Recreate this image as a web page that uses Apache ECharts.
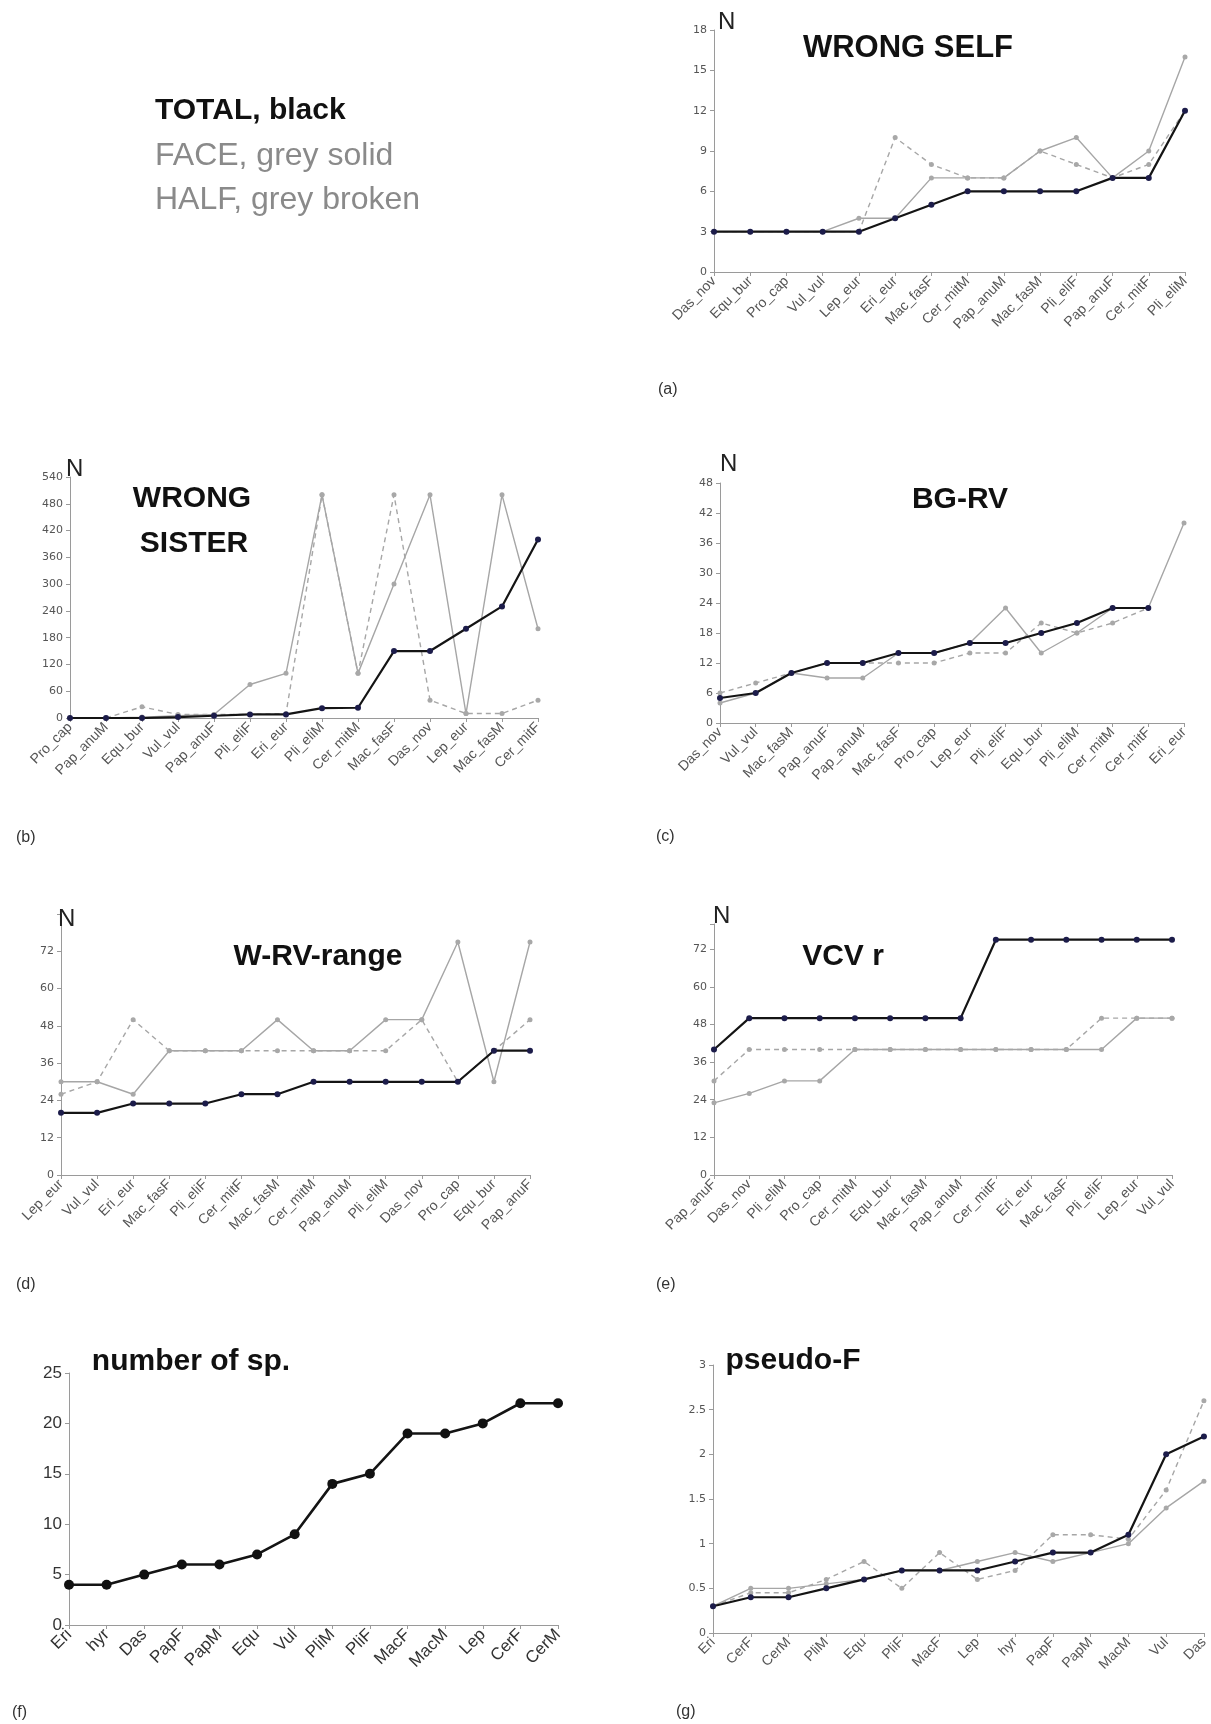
<!DOCTYPE html>
<html><head><meta charset="utf-8">
<script src="https://cdn.jsdelivr.net/npm/echarts@6/dist/echarts.min.js"></script>
<style>html,body{margin:0;padding:0;background:#fff}#c{width:1211px;height:1724px}</style>
</head><body><div id="c"></div>
<script>
// ---- data ----
const catsA = ['Das_nov','Equ_bur','Pro_cap','Vul_vul','Lep_eur','Eri_eur','Mac_fasF','Cer_mitM','Pap_anuM','Mac_fasM','Pli_eliF','Pap_anuF','Cer_mitF','Pli_eliM'];
const totalA = [3,3,3,3,3,4,5,6,6,6,6,7,7,12];
const faceA  = [3,3,3,3,4,4,7,7,7,9,10,7,9,16];
const halfA  = [3,3,3,3,3,10,8,7,7,9,8,7,8,12];

const catsB = ['Pro_cap','Pap_anuM','Equ_bur','Vul_vul','Pap_anuF','Pli_eliF','Eri_eur','Pli_eliM','Cer_mitM','Mac_fasF','Das_nov','Lep_eur','Mac_fasM','Cer_mitF'];
const totalB = [0,0,0,2,5,8,8,22,23,150,150,200,250,400];
const faceB  = [0,0,2,5,8,75,100,500,100,300,500,10,500,200];
const halfB  = [0,0,25,8,8,8,10,500,100,500,40,10,10,40];

const catsC = ['Das_nov','Vul_vul','Mac_fasM','Pap_anuF','Pap_anuM','Mac_fasF','Pro_cap','Lep_eur','Pli_eliF','Equ_bur','Pli_eliM','Cer_mitM','Cer_mitF','Eri_eur'];
const totalC = [5,6,10,12,12,14,14,16,16,18,20,23,23,null];
const faceC  = [4,6,10,9,9,14,14,16,23,14,18,23,23,40];
const halfC  = [6,8,10,12,12,12,12,14,14,20,18,20,23,null];

const catsD = ['Lep_eur','Vul_vul','Eri_eur','Mac_fasF','Pli_eliF','Cer_mitF','Mac_fasM','Cer_mitM','Pap_anuM','Pli_eliM','Das_nov','Pro_cap','Equ_bur','Pap_anuF'];
const totalD = [20,20,23,23,23,26,26,30,30,30,30,30,40,40];
const faceD  = [30,30,26,40,40,40,50,40,40,50,50,75,30,75];
const halfD  = [26,30,50,40,40,40,40,40,40,40,50,30,40,50];

const catsE = ['Pap_anuF','Das_nov','Pli_eliM','Pro_cap','Cer_mitM','Equ_bur','Mac_fasM','Pap_anuM','Cer_mitF','Eri_eur','Mac_fasF','Pli_eliF','Lep_eur','Vul_vul'];
const totalE = [40,50,50,50,50,50,50,50,75,75,75,75,75,75];
const faceE  = [23,26,30,30,40,40,40,40,40,40,40,40,50,50];
const halfE  = [30,40,40,40,40,40,40,40,40,40,40,50,50,50];

const catsF = ['Eri','hyr','Das','PapF','PapM','Equ','Vul','PliM','PliF','MacF','MacM','Lep','CerF','CerM'];
const totalF = [4,4,5,6,6,7,9,14,15,19,19,20,22,22];

const catsG = ['Eri','CerF','CerM','PliM','Equ','PliF','MacF','Lep','hyr','PapF','PapM','MacM','Vul','Das'];
const totalG = [0.3,0.4,0.4,0.5,0.6,0.7,0.7,0.7,0.8,0.9,0.9,1.1,2.0,2.2];
const faceG  = [0.3,0.5,0.5,0.55,0.6,0.7,0.7,0.8,0.9,0.8,0.9,1.0,1.4,1.7];
const halfG  = [0.3,0.45,0.45,0.6,0.8,0.5,0.9,0.6,0.7,1.1,1.1,1.05,1.6,2.6];

// ---- layout ----
const panels = [
  {cats:catsA, t:totalA, f:faceA, h:halfA, grid:{left:714, top:30, width:471, height:242}, max:18, iv:3},
  {cats:catsB, t:totalB, f:faceB, h:halfB, grid:{left:70, top:477, width:468, height:241}, max:540, iv:60},
  {cats:catsC, t:totalC, f:faceC, h:halfC, grid:{left:720, top:483, width:464, height:240}, max:48, iv:6},
  {cats:catsD, t:totalD, f:faceD, h:halfD, grid:{left:61, top:914, width:469, height:261}, max:84, iv:12, hideAbove:72},
  {cats:catsE, t:totalE, f:faceE, h:halfE, grid:{left:714, top:924, width:458, height:251}, max:80, iv:12, hideAbove:72},
  {cats:catsF, t:totalF, grid:{left:69, top:1373, width:489, height:252}, max:25, iv:5, big:true},
  {cats:catsG, t:totalG, f:faceG, h:halfG, grid:{left:713, top:1365, width:491, height:268}, max:3, iv:0.5, mid:true}
];

const FONT = 'Liberation Sans, Arial, sans-serif';
const YFONT = 'DejaVu Sans, Liberation Sans, sans-serif';
const grids = [], xAxes = [], yAxes = [], series = [];
panels.forEach((p, i) => {
  grids.push(Object.assign({containLabel:false}, p.grid));
  const xfs = p.big ? 17 : 14;
  const yfs = p.big ? 17 : 11;
  const lc = p.big ? '#333' : '#555';
  xAxes.push({
    type:'category', gridIndex:i, data:p.cats, boundaryGap:false,
    axisLine:{lineStyle:{color:'#9a9a9a', width:1}},
    axisTick:{show:true, interval:0, length:4, lineStyle:{color:'#9a9a9a'}},
    axisLabel:{interval:0, rotate:45, fontSize:xfs, color:lc, fontFamily:FONT, margin:7}
  });
  yAxes.push({
    type:'value', gridIndex:i, min:0, max:p.max, interval:p.iv,
    splitLine:{show:false},
    axisLine:{show:true, lineStyle:{color:'#9a9a9a', width:1}},
    axisTick:{show:true, length:4, lineStyle:{color:'#9a9a9a'}},
    axisLabel:{fontSize:yfs, color:lc, fontFamily: p.big ? FONT : YFONT, margin:7,
      formatter: v => (p.hideAbove !== undefined && v > p.hideAbove) ? '' : String(v)}
  });
  if (p.f) {
    series.push({type:'line', xAxisIndex:i, yAxisIndex:i, data:p.f, z:2,
      symbol:'circle', symbolSize:5, showAllSymbol:true,
      lineStyle:{color:'#a6a6a6', width:1.4}, itemStyle:{color:'#a8a8a8'}});
    series.push({type:'line', xAxisIndex:i, yAxisIndex:i, data:p.h, z:2,
      symbol:'circle', symbolSize:5, showAllSymbol:true,
      lineStyle:{color:'#a6a6a6', width:1.4, type:[5,4]}, itemStyle:{color:'#a8a8a8'}});
  }
  series.push({type:'line', xAxisIndex:i, yAxisIndex:i, data:p.t, z:3,
    symbol:'circle', symbolSize: p.big ? 10 : 6, showAllSymbol:true,
    lineStyle:{color:'#141414', width: p.big ? 2.6 : 2.2},
    itemStyle:{color: p.big ? '#111' : '#1c1c4a'}});
});

function txt(x, y, s, size, opt) {
  opt = opt || {};
  return {type:'text', x:x, y:y, z:10, style:{text:s, fill:opt.fill || '#111',
    font:(opt.weight || 'normal') + ' ' + size + 'px ' + (opt.family || FONT),
    textAlign:opt.align || 'left', textVerticalAlign:'middle'}};
}
const B = {weight:'bold', align:'center'};
const graphic = [
  txt(155, 111, 'TOTAL, black', 30, {weight:'bold'}),
  txt(155, 156, 'FACE, grey solid', 32, {fill:'#8a8a8a'}),
  txt(155, 200, 'HALF, grey broken', 32, {fill:'#8a8a8a'}),
  txt(908, 48, 'WRONG SELF', 31, B),
  txt(192, 499, 'WRONG', 30, B),
  txt(194, 544, 'SISTER', 30, B),
  txt(960, 500, 'BG-RV', 30, B),
  txt(318, 957, 'W-RV-range', 30, B),
  txt(843, 957, 'VCV r', 30, B),
  txt(191, 1362, 'number of sp.', 30, B),
  txt(793, 1361, 'pseudo-F', 30, B),
  txt(718, 22, 'N', 24, {fill:'#222'}),
  txt(66, 469, 'N', 24, {fill:'#222'}),
  txt(720, 464, 'N', 24, {fill:'#222'}),
  txt(58, 919, 'N', 24, {fill:'#222'}),
  txt(713, 916, 'N', 24, {fill:'#222'}),
  txt(658, 390, '(a)', 16, {fill:'#333'}),
  txt(16, 838, '(b)', 16, {fill:'#333'}),
  txt(656, 837, '(c)', 16, {fill:'#333'}),
  txt(16, 1285, '(d)', 16, {fill:'#333'}),
  txt(656, 1285, '(e)', 16, {fill:'#333'}),
  txt(12, 1713, '(f)', 16, {fill:'#333'}),
  txt(676, 1712, '(g)', 16, {fill:'#333'})
];

const chart = echarts.init(document.getElementById('c'), null, {renderer:'canvas'});
chart.setOption({
  animation:false, backgroundColor:'#fff',
  grid:grids, xAxis:xAxes, yAxis:yAxes, series:series, graphic:graphic
});
</script></body></html>
